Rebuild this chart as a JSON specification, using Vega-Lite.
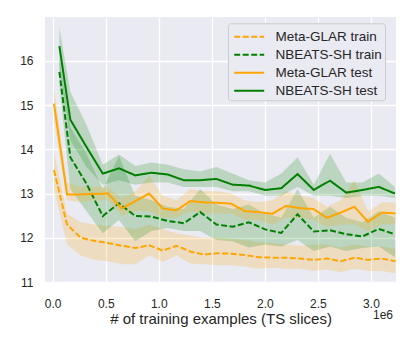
{
  "$schema": "https://vega.github.io/schema/vega-lite/v6.json",
  "width": 351,
  "height": 265,
  "autosize": "none",
  "padding": {"left": 45, "top": 17, "right": 17, "bottom": 62},
  "background": "white",
  "title": {"text": "1e6", "orient": "bottom", "anchor": "end", "frame": "group", "offset": -16, "dx": -3, "fontSize": 12, "fontWeight": "normal", "color": "#262626", "font": "Liberation Sans"},
  "config": {
    "view": {"fill": "#EAEAF2", "stroke": null},
    "axis": {"domain": false, "ticks": false, "gridColor": "white", "gridWidth": 1.3, "labelColor": "#262626", "titleColor": "#262626", "labelFont": "Liberation Sans", "titleFont": "Liberation Sans", "labelFontSize": 12, "titleFontSize": 15, "titleFontWeight": "normal"},
    "legend": {"orient": "none", "legendX": 183, "legendY": 6.3, "fillColor": "#EAEAF2", "strokeColor": "#cccccc", "cornerRadius": 3, "padding": 2.5, "symbolType": "M-0.745,0H2.316", "symbolSize": 384, "symbolStrokeWidth": 2, "labelFontSize": 13.5, "labelFont": "Liberation Sans", "labelColor": "#262626", "labelOffset": 22.9, "rowPadding": 0}
  },
  "data": {"values": [
    {"m": "Meta-GLAR", "s": "Meta-GLAR train", "x": 12000, "y": 13.53, "lo": 13.1, "hi": 13.95},
    {"m": "Meta-GLAR", "s": "Meta-GLAR train", "x": 135000, "y": 12.3, "lo": 11.85, "hi": 12.55},
    {"m": "Meta-GLAR", "s": "Meta-GLAR train", "x": 264000, "y": 12.0, "lo": 11.6, "hi": 12.35},
    {"m": "Meta-GLAR", "s": "Meta-GLAR train", "x": 393000, "y": 11.93, "lo": 11.5, "hi": 12.3},
    {"m": "Meta-GLAR", "s": "Meta-GLAR train", "x": 522000, "y": 11.88, "lo": 11.47, "hi": 12.27},
    {"m": "Meta-GLAR", "s": "Meta-GLAR train", "x": 651000, "y": 11.82, "lo": 11.4, "hi": 12.25},
    {"m": "Meta-GLAR", "s": "Meta-GLAR train", "x": 780000, "y": 11.77, "lo": 11.4, "hi": 12.2},
    {"m": "Meta-GLAR", "s": "Meta-GLAR train", "x": 909000, "y": 11.83, "lo": 11.6, "hi": 12.3},
    {"m": "Meta-GLAR", "s": "Meta-GLAR train", "x": 1038000, "y": 11.71, "lo": 11.45, "hi": 12.2},
    {"m": "Meta-GLAR", "s": "Meta-GLAR train", "x": 1167000, "y": 11.82, "lo": 11.6, "hi": 12.1},
    {"m": "Meta-GLAR", "s": "Meta-GLAR train", "x": 1296000, "y": 11.69, "lo": 11.42, "hi": 12.05},
    {"m": "Meta-GLAR", "s": "Meta-GLAR train", "x": 1425000, "y": 11.62, "lo": 11.4, "hi": 12.0},
    {"m": "Meta-GLAR", "s": "Meta-GLAR train", "x": 1554000, "y": 11.65, "lo": 11.38, "hi": 12.0},
    {"m": "Meta-GLAR", "s": "Meta-GLAR train", "x": 1683000, "y": 11.64, "lo": 11.38, "hi": 11.98},
    {"m": "Meta-GLAR", "s": "Meta-GLAR train", "x": 1812000, "y": 11.61, "lo": 11.35, "hi": 11.95},
    {"m": "Meta-GLAR", "s": "Meta-GLAR train", "x": 1941000, "y": 11.56, "lo": 11.3, "hi": 11.9},
    {"m": "Meta-GLAR", "s": "Meta-GLAR train", "x": 2070000, "y": 11.55, "lo": 11.32, "hi": 11.88},
    {"m": "Meta-GLAR", "s": "Meta-GLAR train", "x": 2199000, "y": 11.55, "lo": 11.3, "hi": 11.85},
    {"m": "Meta-GLAR", "s": "Meta-GLAR train", "x": 2328000, "y": 11.53, "lo": 11.3, "hi": 11.82},
    {"m": "Meta-GLAR", "s": "Meta-GLAR train", "x": 2457000, "y": 11.5, "lo": 11.25, "hi": 11.85},
    {"m": "Meta-GLAR", "s": "Meta-GLAR train", "x": 2586000, "y": 11.53, "lo": 11.28, "hi": 11.85},
    {"m": "Meta-GLAR", "s": "Meta-GLAR train", "x": 2715000, "y": 11.47, "lo": 11.22, "hi": 11.78},
    {"m": "Meta-GLAR", "s": "Meta-GLAR train", "x": 2844000, "y": 11.55, "lo": 11.3, "hi": 11.85},
    {"m": "Meta-GLAR", "s": "Meta-GLAR train", "x": 2973000, "y": 11.5, "lo": 11.25, "hi": 11.8},
    {"m": "Meta-GLAR", "s": "Meta-GLAR train", "x": 3102000, "y": 11.53, "lo": 11.25, "hi": 11.8},
    {"m": "Meta-GLAR", "s": "Meta-GLAR train", "x": 3231000, "y": 11.47, "lo": 11.2, "hi": 11.75},
    {"m": "NBEATS-SH", "s": "NBEATS-SH train", "x": 63000, "y": 15.75, "lo": 15.45, "hi": 16.05},
    {"m": "NBEATS-SH", "s": "NBEATS-SH train", "x": 166000, "y": 13.82, "lo": 13.1, "hi": 14.5},
    {"m": "NBEATS-SH", "s": "NBEATS-SH train", "x": 319000, "y": 13.22, "lo": 12.6, "hi": 13.9},
    {"m": "NBEATS-SH", "s": "NBEATS-SH train", "x": 472000, "y": 12.49, "lo": 12.1, "hi": 13.1},
    {"m": "NBEATS-SH", "s": "NBEATS-SH train", "x": 625000, "y": 12.78, "lo": 12.4, "hi": 13.85},
    {"m": "NBEATS-SH", "s": "NBEATS-SH train", "x": 778000, "y": 12.49, "lo": 11.92, "hi": 12.95},
    {"m": "NBEATS-SH", "s": "NBEATS-SH train", "x": 931000, "y": 12.48, "lo": 12.15, "hi": 12.85},
    {"m": "NBEATS-SH", "s": "NBEATS-SH train", "x": 1084000, "y": 12.38, "lo": 12.22, "hi": 12.7},
    {"m": "NBEATS-SH", "s": "NBEATS-SH train", "x": 1237000, "y": 12.33, "lo": 12.15, "hi": 12.65},
    {"m": "NBEATS-SH", "s": "NBEATS-SH train", "x": 1390000, "y": 12.58, "lo": 12.15, "hi": 13.1},
    {"m": "NBEATS-SH", "s": "NBEATS-SH train", "x": 1543000, "y": 12.3, "lo": 11.95, "hi": 12.75},
    {"m": "NBEATS-SH", "s": "NBEATS-SH train", "x": 1696000, "y": 12.25, "lo": 11.92, "hi": 12.65},
    {"m": "NBEATS-SH", "s": "NBEATS-SH train", "x": 1849000, "y": 12.35, "lo": 11.78, "hi": 12.75},
    {"m": "NBEATS-SH", "s": "NBEATS-SH train", "x": 2002000, "y": 12.19, "lo": 11.85, "hi": 12.55},
    {"m": "NBEATS-SH", "s": "NBEATS-SH train", "x": 2155000, "y": 12.11, "lo": 11.8, "hi": 12.45},
    {"m": "NBEATS-SH", "s": "NBEATS-SH train", "x": 2308000, "y": 12.53, "lo": 11.95, "hi": 13.1},
    {"m": "NBEATS-SH", "s": "NBEATS-SH train", "x": 2461000, "y": 12.14, "lo": 11.7, "hi": 12.45},
    {"m": "NBEATS-SH", "s": "NBEATS-SH train", "x": 2614000, "y": 12.17, "lo": 11.8, "hi": 12.7},
    {"m": "NBEATS-SH", "s": "NBEATS-SH train", "x": 2767000, "y": 12.08, "lo": 11.7, "hi": 12.45},
    {"m": "NBEATS-SH", "s": "NBEATS-SH train", "x": 2920000, "y": 12.03, "lo": 11.77, "hi": 12.35},
    {"m": "NBEATS-SH", "s": "NBEATS-SH train", "x": 3073000, "y": 12.2, "lo": 11.8, "hi": 12.6},
    {"m": "NBEATS-SH", "s": "NBEATS-SH train", "x": 3226000, "y": 12.08, "lo": 11.56, "hi": 12.45},
    {"m": "Meta-GLAR", "s": "Meta-GLAR test", "x": 12000, "y": 15.03, "lo": 14.65, "hi": 15.4},
    {"m": "Meta-GLAR", "s": "Meta-GLAR test", "x": 135000, "y": 12.98, "lo": 12.85, "hi": 13.25},
    {"m": "Meta-GLAR", "s": "Meta-GLAR test", "x": 264000, "y": 12.98, "lo": 12.8, "hi": 13.15},
    {"m": "Meta-GLAR", "s": "Meta-GLAR test", "x": 393000, "y": 12.99, "lo": 12.85, "hi": 13.15},
    {"m": "Meta-GLAR", "s": "Meta-GLAR test", "x": 522000, "y": 13.0, "lo": 12.85, "hi": 13.15},
    {"m": "Meta-GLAR", "s": "Meta-GLAR test", "x": 651000, "y": 12.66, "lo": 12.5, "hi": 12.9},
    {"m": "Meta-GLAR", "s": "Meta-GLAR test", "x": 780000, "y": 12.83, "lo": 12.6, "hi": 13.05},
    {"m": "Meta-GLAR", "s": "Meta-GLAR test", "x": 909000, "y": 13.0, "lo": 12.6, "hi": 13.4},
    {"m": "Meta-GLAR", "s": "Meta-GLAR test", "x": 1038000, "y": 12.66, "lo": 12.45, "hi": 12.95},
    {"m": "Meta-GLAR", "s": "Meta-GLAR test", "x": 1167000, "y": 12.62, "lo": 12.45, "hi": 12.85},
    {"m": "Meta-GLAR", "s": "Meta-GLAR test", "x": 1296000, "y": 12.83, "lo": 12.6, "hi": 13.1},
    {"m": "Meta-GLAR", "s": "Meta-GLAR test", "x": 1425000, "y": 12.8, "lo": 12.55, "hi": 13.05},
    {"m": "Meta-GLAR", "s": "Meta-GLAR test", "x": 1554000, "y": 12.79, "lo": 12.55, "hi": 13.05},
    {"m": "Meta-GLAR", "s": "Meta-GLAR test", "x": 1683000, "y": 12.77, "lo": 12.55, "hi": 13.0},
    {"m": "Meta-GLAR", "s": "Meta-GLAR test", "x": 1812000, "y": 12.6, "lo": 12.4, "hi": 12.85},
    {"m": "Meta-GLAR", "s": "Meta-GLAR test", "x": 1941000, "y": 12.58, "lo": 12.4, "hi": 12.8},
    {"m": "Meta-GLAR", "s": "Meta-GLAR test", "x": 2070000, "y": 12.54, "lo": 12.3, "hi": 12.85},
    {"m": "Meta-GLAR", "s": "Meta-GLAR test", "x": 2199000, "y": 12.72, "lo": 12.45, "hi": 13.05},
    {"m": "Meta-GLAR", "s": "Meta-GLAR test", "x": 2328000, "y": 12.67, "lo": 12.45, "hi": 12.95},
    {"m": "Meta-GLAR", "s": "Meta-GLAR test", "x": 2457000, "y": 12.65, "lo": 12.4, "hi": 12.9},
    {"m": "Meta-GLAR", "s": "Meta-GLAR test", "x": 2586000, "y": 12.45, "lo": 12.25, "hi": 12.7},
    {"m": "Meta-GLAR", "s": "Meta-GLAR test", "x": 2715000, "y": 12.57, "lo": 12.3, "hi": 12.85},
    {"m": "Meta-GLAR", "s": "Meta-GLAR test", "x": 2844000, "y": 12.7, "lo": 12.3, "hi": 13.3},
    {"m": "Meta-GLAR", "s": "Meta-GLAR test", "x": 2973000, "y": 12.36, "lo": 12.15, "hi": 12.6},
    {"m": "Meta-GLAR", "s": "Meta-GLAR test", "x": 3102000, "y": 12.57, "lo": 12.3, "hi": 12.8},
    {"m": "Meta-GLAR", "s": "Meta-GLAR test", "x": 3231000, "y": 12.55, "lo": 12.3, "hi": 12.8},
    {"m": "NBEATS-SH", "s": "NBEATS-SH test", "x": 63000, "y": 16.33, "lo": 15.9, "hi": 16.75},
    {"m": "NBEATS-SH", "s": "NBEATS-SH test", "x": 166000, "y": 14.67, "lo": 14.2, "hi": 15.3},
    {"m": "NBEATS-SH", "s": "NBEATS-SH test", "x": 319000, "y": 14.05, "lo": 13.6, "hi": 14.55},
    {"m": "NBEATS-SH", "s": "NBEATS-SH test", "x": 472000, "y": 13.45, "lo": 13.2, "hi": 13.65},
    {"m": "NBEATS-SH", "s": "NBEATS-SH test", "x": 625000, "y": 13.57, "lo": 13.3, "hi": 13.88},
    {"m": "NBEATS-SH", "s": "NBEATS-SH test", "x": 778000, "y": 13.41, "lo": 13.2, "hi": 13.62},
    {"m": "NBEATS-SH", "s": "NBEATS-SH test", "x": 931000, "y": 13.47, "lo": 13.25, "hi": 13.7},
    {"m": "NBEATS-SH", "s": "NBEATS-SH test", "x": 1084000, "y": 13.43, "lo": 13.25, "hi": 13.65},
    {"m": "NBEATS-SH", "s": "NBEATS-SH test", "x": 1237000, "y": 13.3, "lo": 13.15, "hi": 13.55},
    {"m": "NBEATS-SH", "s": "NBEATS-SH test", "x": 1390000, "y": 13.3, "lo": 13.15, "hi": 13.5},
    {"m": "NBEATS-SH", "s": "NBEATS-SH test", "x": 1543000, "y": 13.33, "lo": 13.15, "hi": 13.6},
    {"m": "NBEATS-SH", "s": "NBEATS-SH test", "x": 1696000, "y": 13.2, "lo": 13.05, "hi": 13.45},
    {"m": "NBEATS-SH", "s": "NBEATS-SH test", "x": 1849000, "y": 13.18, "lo": 13.05, "hi": 13.3},
    {"m": "NBEATS-SH", "s": "NBEATS-SH test", "x": 2002000, "y": 13.08, "lo": 12.95, "hi": 13.25},
    {"m": "NBEATS-SH", "s": "NBEATS-SH test", "x": 2155000, "y": 13.12, "lo": 12.95, "hi": 13.45},
    {"m": "NBEATS-SH", "s": "NBEATS-SH test", "x": 2308000, "y": 13.44, "lo": 13.15, "hi": 13.82},
    {"m": "NBEATS-SH", "s": "NBEATS-SH test", "x": 2461000, "y": 13.08, "lo": 12.95, "hi": 13.2},
    {"m": "NBEATS-SH", "s": "NBEATS-SH test", "x": 2614000, "y": 13.29, "lo": 12.95, "hi": 13.9},
    {"m": "NBEATS-SH", "s": "NBEATS-SH test", "x": 2767000, "y": 13.02, "lo": 12.9, "hi": 13.25},
    {"m": "NBEATS-SH", "s": "NBEATS-SH test", "x": 2920000, "y": 13.08, "lo": 12.95, "hi": 13.25},
    {"m": "NBEATS-SH", "s": "NBEATS-SH test", "x": 3073000, "y": 13.15, "lo": 12.95, "hi": 13.45},
    {"m": "NBEATS-SH", "s": "NBEATS-SH test", "x": 3226000, "y": 13.0, "lo": 12.9, "hi": 13.15}
  ]},
  "encoding": {
    "x": {"field": "x", "type": "quantitative", "scale": {"domain": [-72600, 3236000], "nice": false, "zero": false},
      "axis": {"values": [0, 500000, 1000000, 1500000, 2000000, 2500000, 3000000], "labelExpr": "format(datum.value / 1000000, '.1f')", "title": "# of training examples (TS slices)", "labelPadding": 16, "titlePadding": 2, "gridWidth": 1.3}}
  },
  "layer": [
    {
      "mark": {"type": "area", "clip": true, "fillOpacity": 0.2},
      "encoding": {
        "y": {"field": "lo", "type": "quantitative", "scale": {"domain": [11.0, 16.99], "nice": false, "zero": false},
          "axis": {"values": [11, 12, 13, 14, 15, 16], "title": null, "labelPadding": 12}},
        "y2": {"field": "hi"},
        "fill": {"field": "m", "type": "nominal", "scale": {"domain": ["Meta-GLAR", "NBEATS-SH"], "range": ["#FFA500", "#008000"]}, "legend": null},
        "detail": {"field": "s"}
      }
    },
    {
      "mark": {"type": "line", "clip": true, "strokeWidth": 2},
      "encoding": {
        "y": {"field": "y", "type": "quantitative"},
        "stroke": {"field": "s", "type": "nominal", "scale": {"domain": ["Meta-GLAR train", "NBEATS-SH train", "Meta-GLAR test", "NBEATS-SH test"], "range": ["#FFA500", "#008000", "#FFA500", "#008000"]}, "legend": {"title": null}},
        "strokeDash": {"field": "s", "type": "nominal", "scale": {"domain": ["Meta-GLAR train", "NBEATS-SH train", "Meta-GLAR test", "NBEATS-SH test"], "range": [[6, 2.5], [6, 2.5], [1, 0], [1, 0]]}, "legend": {"title": null}}
      }
    }
  ]
}
